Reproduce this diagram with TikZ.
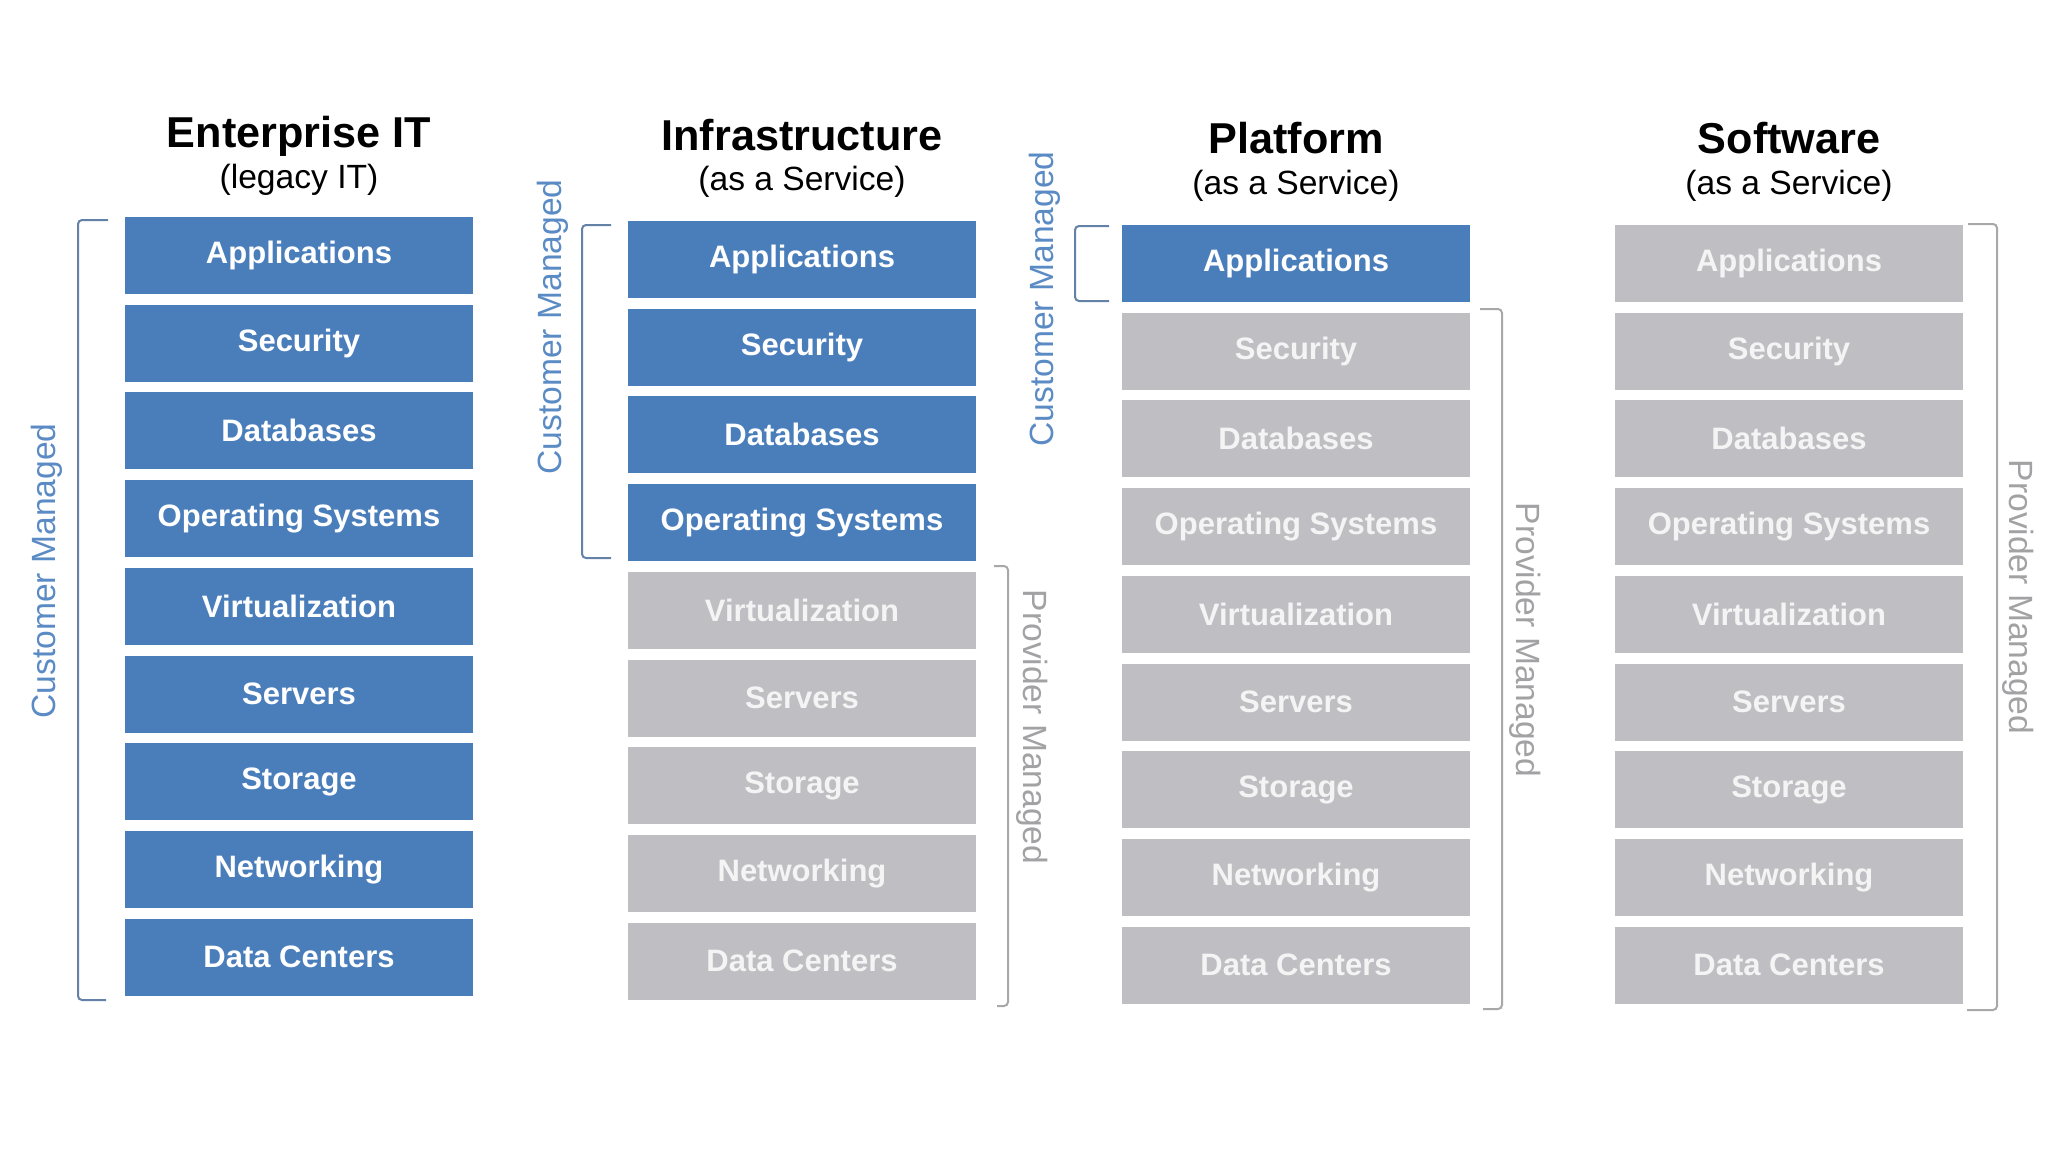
\documentclass[tikz,border=0pt]{standalone}
\usepackage{fontspec}
\setmainfont{Liberation Sans}
\definecolor{bluebox}{HTML}{4A7EBB}
\definecolor{graybox}{HTML}{BFBEC3}
\definecolor{graytext}{HTML}{F4F4F4}
\definecolor{custtext}{HTML}{5B8BC4}
\definecolor{provtext}{HTML}{A2A2A4}
\definecolor{custline}{HTML}{6482A8}
\definecolor{provline}{HTML}{A8A8AA}
\begin{document}
\begin{tikzpicture}[x=0.5pt,y=-0.5pt,
  layer/.style={minimum width=174pt, minimum height=38.5pt, inner sep=0pt,
    font=\fontsize{15.5}{18}\selectfont\bfseries, text=white},
  cust/.style={layer, fill=bluebox},
  prov/.style={layer, fill=graybox, text=graytext},
  coltitle/.style={font=\fontsize{21.6}{26}\selectfont\bfseries, anchor=base, inner sep=0pt},
  colsub/.style={font=\fontsize{16.8}{20}\selectfont, anchor=base, inner sep=0pt},
  custlabel/.style={font=\fontsize{16.8}{20}\selectfont, text=custtext, rotate=90, inner sep=0pt},
  provlabel/.style={font=\fontsize{16.8}{20}\selectfont, text=provtext, rotate=-90, inner sep=0pt},
  custbracket/.style={draw=custline, line width=1pt, rounded corners=2pt},
  provbracket/.style={draw=provline, line width=1pt, rounded corners=2pt}]
\useasboundingbox[fill=white] (0,0) rectangle (2048,1152);

% titles
\node[coltitle] (t1) at (299,147) {Enterprise IT};
\node[colsub]   (s1) at (299,188) {(legacy IT)};
\node[coltitle] (t2) at (802,150) {Infrastructure};
\node[colsub]   (s2) at (802,190) {(as a Service)};
\node[coltitle] (t3) at (1296,153) {Platform};
\node[colsub]   (s3) at (1296,194) {(as a Service)};
\node[coltitle] (t4) at (1789,153) {Software};
\node[colsub]   (s4) at (1789,194) {(as a Service)};

% layer stacks
\foreach \cx/\ty/\nb/\c in {299/217/9/a, 802/221/4/b, 1296/225/1/c, 1789/225/0/d} {
  \foreach \t [count=\i] in {Applications,Security,Databases,Operating Systems,Virtualization,Servers,Storage,Networking,Data Centers} {
    \ifnum\i>\nb \def\sty{prov}\else\def\sty{cust}\fi
    \node[\sty] (\c\i) at (\cx, {\ty+38.5+(\i-1)*87.7}) {\t};
  }
}

% customer managed brackets
\draw[custbracket] (108,220) -- (78,220) -- (78,1000) -- (106,1000);
\draw[custbracket] (611,225) -- (582,225) -- (582,558) -- (611,558);
\draw[custbracket] (1109,226) -- (1075,226) -- (1075,301) -- (1109,301);

% provider managed brackets
\draw[provbracket] (994,566) -- (1008,566) -- (1008,1006) -- (997,1006);
\draw[provbracket] (1480,309) -- (1502,309) -- (1502,1009) -- (1483,1009);
\draw[provbracket] (1968,224) -- (1997,224) -- (1997,1010) -- (1967,1010);

% side labels
\node[custlabel] (cm1) at (47,571) {Customer Managed};
\node[custlabel] (cm2) at (553,327) {Customer Managed};
\node[custlabel] (cm3) at (1045,299) {Customer Managed};
\node[provlabel] (pm2) at (1032,727) {Provider Managed};
\node[provlabel] (pm3) at (1525,640) {Provider Managed};
\node[provlabel] (pm4) at (2018,597) {Provider Managed};
\end{tikzpicture}
\end{document}
